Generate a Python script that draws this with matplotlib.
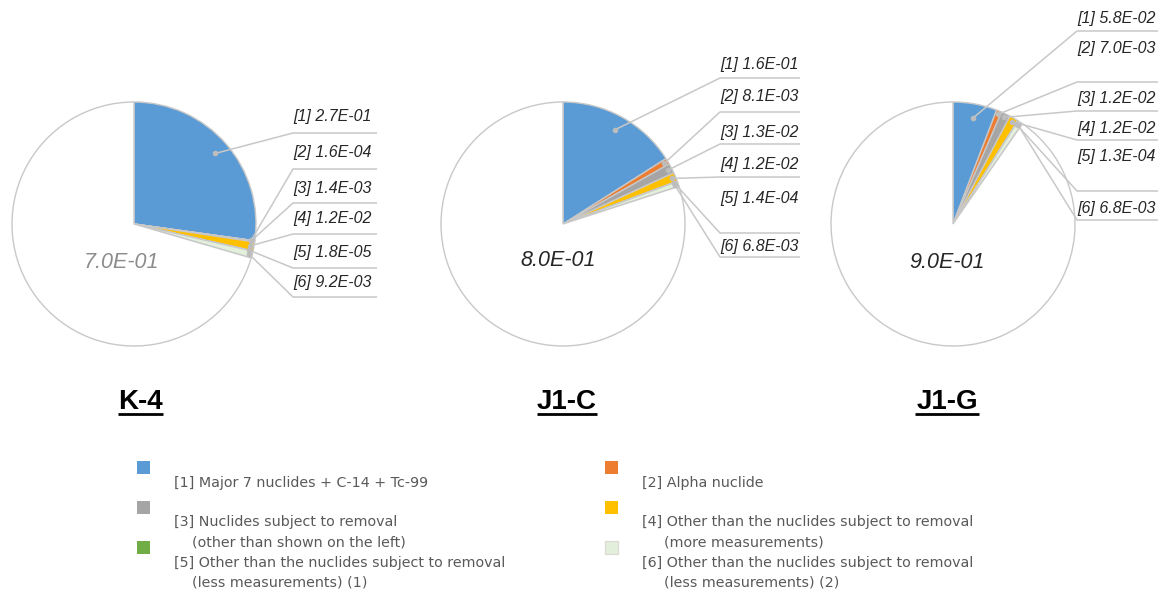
import matplotlib
matplotlib.use("Agg")
import matplotlib.pyplot as plt
import numpy as np

plt.rcParams["font.family"] = ["Liberation Sans", "DejaVu Sans"]

# ---- data -------------------------------------------------------------
samples = ["K-4", "J1-C", "J1-G"]
k4_values = [2.7e-01, 1.6e-04, 1.4e-03, 1.2e-02, 1.8e-05, 9.2e-03, 7.0e-01]
j1c_values = [1.6e-01, 8.1e-03, 1.3e-02, 1.2e-02, 1.4e-04, 6.8e-03, 8.0e-01]
j1g_values = [5.8e-02, 7.0e-03, 1.2e-02, 1.2e-02, 1.3e-04, 6.8e-03, 9.0e-01]
k4_labels = ["2.7E-01", "1.6E-04", "1.4E-03", "1.2E-02", "1.8E-05", "9.2E-03", "7.0E-01"]
j1c_labels = ["1.6E-01", "8.1E-03", "1.3E-02", "1.2E-02", "1.4E-04", "6.8E-03", "8.0E-01"]
j1g_labels = ["5.8E-02", "7.0E-03", "1.2E-02", "1.2E-02", "1.3E-04", "6.8E-03", "9.0E-01"]

legend_items = [
    ["[1] Major 7 nuclides + C-14 + Tc-99"],
    ["[2] Alpha nuclide"],
    ["[3] Nuclides subject to removal", "(other than shown on the left)"],
    ["[4] Other than the nuclides subject to removal", "(more measurements)"],
    ["[5] Other than the nuclides subject to removal", "(less measurements) (1)"],
    ["[6] Other than the nuclides subject to removal", "(less measurements) (2)"],
]
colors = ["#5B9BD5", "#ED7D31", "#A5A5A5", "#FFC000", "#70AD47", "#E2EFDA", "#FFFFFF"]
legend_colors = colors[:6]

# ---- layout (pixels, y measured from top) ----------------------------
W, H = 1168, 592
centers = [(134, 224), (563, 224), (953, 224)]
radius = 122
title_xy = [(140, 402), (567, 402), (947, 402)]
center_label_xy = [(122, 262), (558, 261), (947, 262)]
center_label_color = ["#8C8C8C", "#262626", "#262626"]
label_x = [(293, 377), (720, 800), (1077, 1158)]
label_text_y = [
    [117, 152, 188, 218, 253, 283],
    [65, 97, 132, 164, 198, 246],
    [18, 48, 98, 128, 156, 208],
]
label_line_y = [
    [133, 169, 203, 234, 268, 297],
    [78, 112, 144, 177, 233, 257],
    [31, 82, 111, 140, 191, 220],
]


def Y(y):
    return H - y


fig = plt.figure(figsize=(W / 100, H / 100), dpi=100)
ax = fig.add_axes([0, 0, 1, 1])

all_values = [k4_values, j1c_values, j1g_values]
all_labels = [k4_labels, j1c_labels, j1g_labels]
line_col = "#C8C8C8"

for i, name in enumerate(samples):
    vals = np.array(all_values[i])
    cx, cy = centers[i]
    ax.pie(vals, colors=colors, startangle=90, counterclock=False,
           center=(cx, Y(cy)), radius=radius,
           wedgeprops=dict(edgecolor=line_col, linewidth=1.0))

    # angles of each wedge (clockwise from 12 o'clock)
    frac = vals / vals.sum()
    ends = 90 - 360 * np.cumsum(frac)
    starts = ends + 360 * frac
    mids = (starts + ends) / 2

    x0, x1 = label_x[i]
    for k in range(6):
        rf = 0.88 if k == 0 else 0.97
        px = cx + rf * radius * np.cos(np.radians(mids[k]))
        py = Y(cy) + rf * radius * np.sin(np.radians(mids[k]))
        ly = Y(label_line_y[i][k])
        ax.plot([px, x0, x1], [py, ly, ly], color=line_col, lw=1.1,
                solid_capstyle="butt", zorder=3)
        ax.plot([px], [py], marker="o", ms=3, color="#BDBDBD", zorder=4)
        ax.text(x0, Y(label_text_y[i][k]), f"[{k + 1}] {all_labels[i][k]}",
                fontsize=11.5, style="italic", color="#262626",
                ha="left", va="center", zorder=5)

    lx, lyy = center_label_xy[i]
    ax.text(lx, Y(lyy), all_labels[i][6], fontsize=15.5, style="italic",
            color=center_label_color[i], ha="center", va="center")

    tx, ty = title_xy[i]
    ax.text(tx, Y(ty), name, fontsize=20, fontweight="bold",
            color="#000000", ha="center", va="center")
    # underline drawn below the title text
    tw = {"K-4": 45, "J1-C": 60, "J1-G": 64}[name]
    ax.plot([tx - tw / 2, tx + tw / 2], [Y(ty + 12), Y(ty + 12)],
            color="#000000", lw=2, solid_capstyle="butt")

# ---- legend -----------------------------------------------------------
leg_sq_x = [137, 605]
leg_txt_x = [174, 642]
leg_indent = [18, 22]
leg_sq_y = [461, 501, 541]
leg_txt_y = [483, 522, 563]
for k, lines in enumerate(legend_items):
    col, row = k % 2, k // 2
    sx, sy = leg_sq_x[col], leg_sq_y[row]
    ax.add_patch(plt.Rectangle((sx, Y(sy + 13)), 13, 13,
                               facecolor=legend_colors[k],
                               edgecolor="#D9D9D9" if k == 5 else "none", lw=0.8))
    for j, ln in enumerate(lines):
        ax.text(leg_txt_x[col] + (leg_indent[col] if j else 0),
                Y(leg_txt_y[row] + 20 * j), ln, fontsize=10.3,
                family=["DejaVu Sans"], color="#595959",
                ha="left", va="center")

ax.set_xlim(0, W)
ax.set_ylim(0, H)
ax.set_aspect("equal")
ax.axis("off")

fig.savefig("out.png", dpi=100, facecolor="white")
